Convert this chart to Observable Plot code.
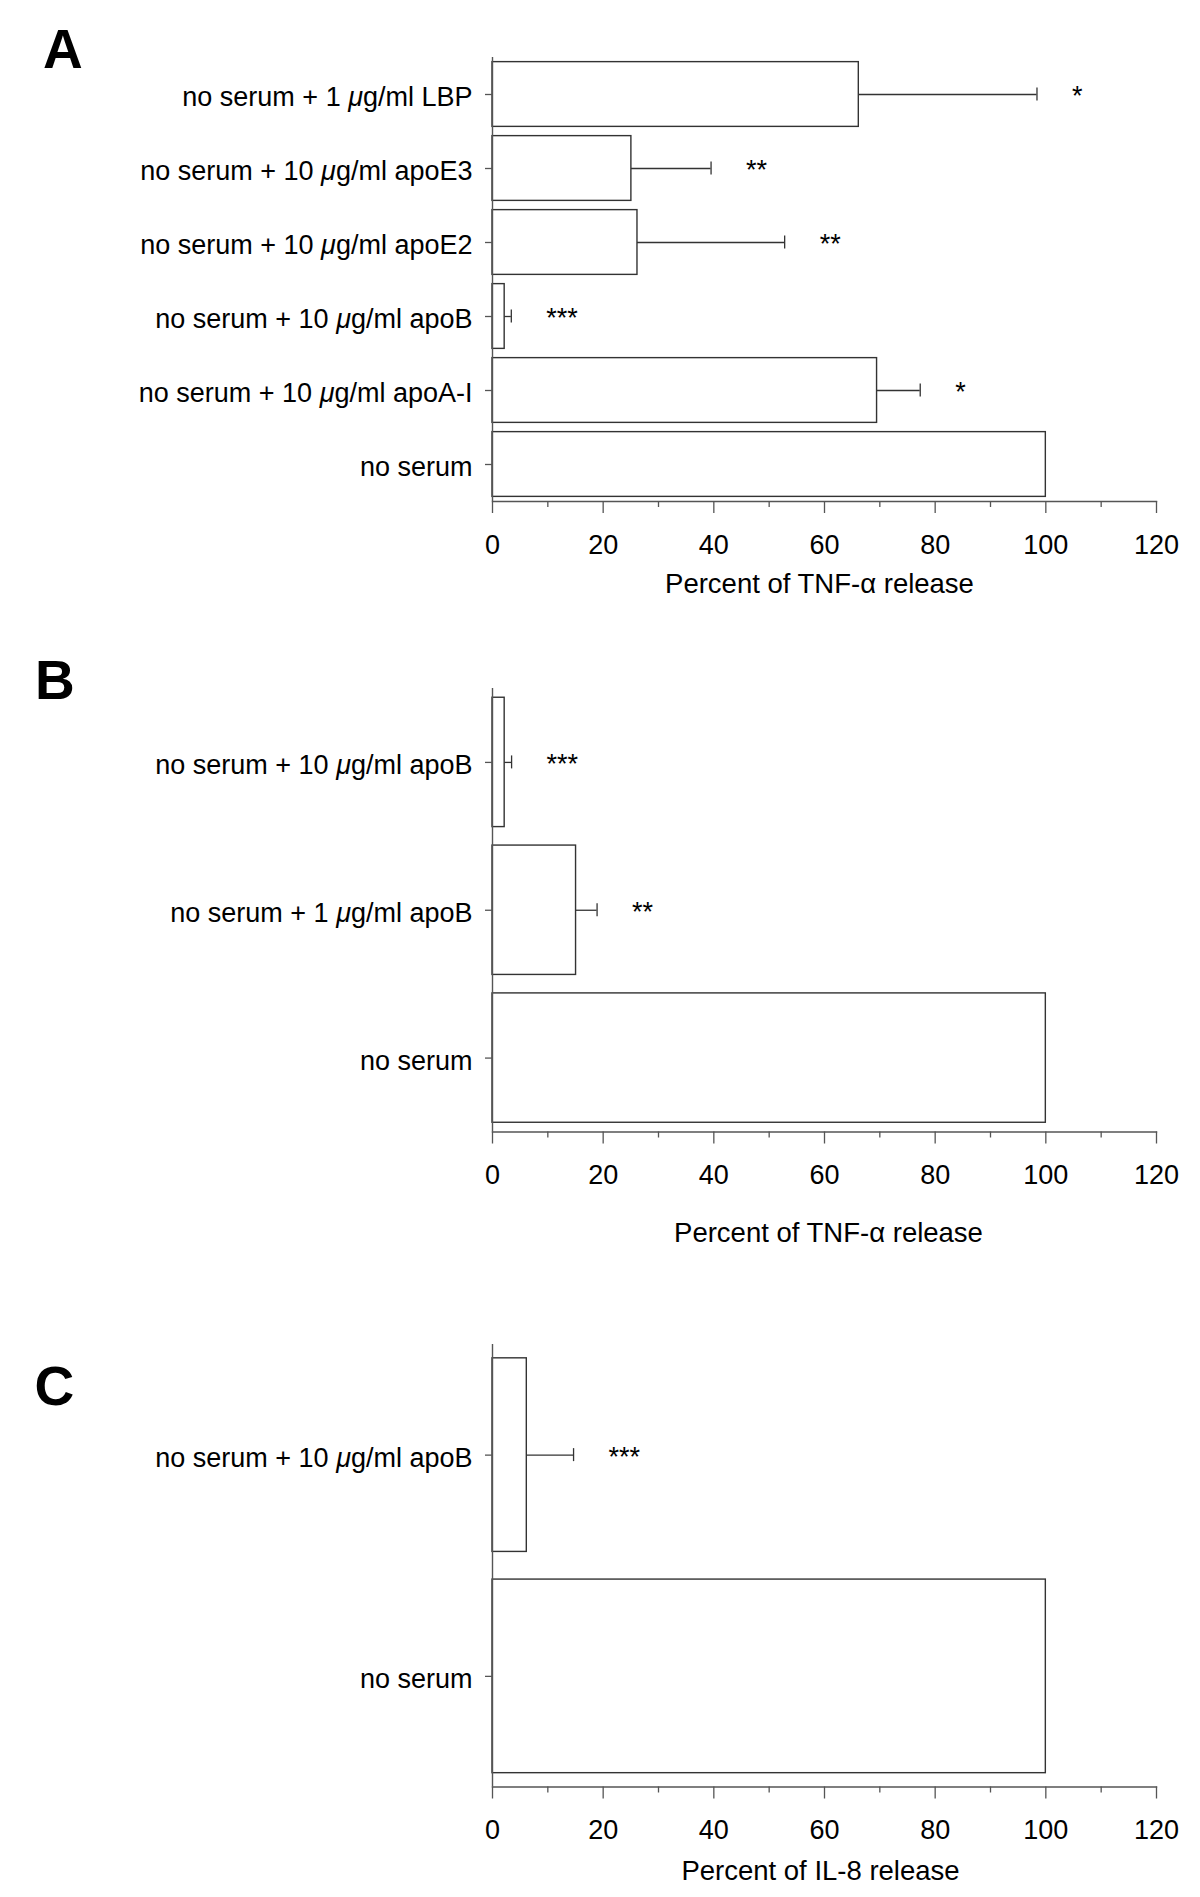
<!DOCTYPE html>
<html><head><meta charset="utf-8">
<script src="https://cdn.jsdelivr.net/npm/d3@7"></script>
<script src="https://cdn.jsdelivr.net/npm/@observablehq/plot@0.6"></script>
<style>
body{margin:0;background:#fff;}
#page{position:relative;width:1200px;height:1897px;overflow:hidden;background:#fff;font-family:"Liberation Sans",Arial,Helvetica,sans-serif;}
.panel{position:absolute;left:0;}
.letter{position:absolute;font-weight:bold;font-size:55px;line-height:1;color:#000;font-family:"Liberation Sans",Arial,Helvetica,sans-serif;}
</style></head><body><div id="page"></div>
<script>
// ---- Panel A data ----
const catsA = ["no serum + 1 μg/ml LBP","no serum + 10 μg/ml apoE3","no serum + 10 μg/ml apoE2","no serum + 10 μg/ml apoB","no serum + 10 μg/ml apoA-I","no serum"];
const valuesA = [66.2, 25.1, 26.2, 2.2, 69.5, 100];
const errorsA = [32.2, 14.4, 26.6, 1.2, 7.8, 0];
const starsA = ["*", "**", "**", "***", "*", ""];
const titleA = "Percent of TNF-α release";

// ---- Panel B data ----
const catsB = ["no serum + 10 μg/ml apoB","no serum + 1 μg/ml apoB","no serum"];
const valuesB = [2.2, 15.1, 100];
const errorsB = [1.25, 3.8, 0];
const starsB = ["***", "**", ""];
const titleB = "Percent of TNF-α release";

// ---- Panel C data ----
const catsC = ["no serum + 10 μg/ml apoB","no serum"];
const valuesC = [6.2, 100];
const errorsC = [8.45, 0];
const starsC = ["***", ""];
const titleC = "Percent of IL-8 release";

const majorTicks = [0, 20, 40, 60, 80, 100, 120];
const minorTicks = [10, 30, 50, 70, 90, 110];

const FONT = '"Liberation Sans", Arial, Helvetica, sans-serif';
const BAR = "#333";
const AXIS = "#555";
const FS = 27;

const page = document.getElementById("page");

function italicizeMu(svg) {
  svg.querySelectorAll("text").forEach(t => {
    if (t.children.length === 0 && t.textContent.includes("μ")) {
      const parts = t.textContent.split("μ");
      t.textContent = "";
      parts.forEach((p, i) => {
        if (i > 0) {
          const ts = document.createElementNS("http://www.w3.org/2000/svg", "tspan");
          ts.setAttribute("font-style", "italic");
          ts.textContent = "μ";
          t.appendChild(ts);
        }
        t.appendChild(document.createTextNode(p));
      });
    }
  });
}

function makePanel({cats, values, errors, stars, title, top, svgHeight, marginTop, plotHeight, titleDy, titleDx}) {
  const rows = cats.map((c, i) => ({cat: c, value: values[i], err: errors[i], star: stars[i]}));
  const errRows = rows.filter(d => d.err > 0);
  const pIn = 0.125, pOut = 0.0625;
  const capInset = (plotHeight / cats.length * (1 - pIn) - 13) / 2;
  const chart = Plot.plot({
    width: 1200,
    height: svgHeight,
    marginLeft: 492,
    marginRight: 44,
    marginTop,
    marginBottom: svgHeight - marginTop - plotHeight,
    style: {fontFamily: FONT, fontSize: FS + "px", color: "#000", background: "transparent"},
    x: {domain: [0, 120], axis: null},
    y: {domain: cats, paddingInner: pIn, paddingOuter: pOut, round: false, axis: null},
    marks: [
      Plot.ruleY(errRows, {y: "cat", x1: "value", x2: d => d.value + d.err, stroke: BAR, strokeWidth: 1.3}),
      Plot.tickX(errRows, {y: "cat", x: d => d.value + d.err, stroke: BAR, strokeWidth: 1.3, insetTop: capInset, insetBottom: capInset}),
      Plot.barX(rows, {y: "cat", x1: 0, x2: "value", fill: "white", stroke: BAR, strokeWidth: 1.4}),
      Plot.text(errRows, {y: "cat", x: d => d.value + d.err, text: "star", textAnchor: "start", dx: 35, dy: 2, fontSize: FS, fill: "#000"}),
      Plot.ruleX([0], {stroke: AXIS, strokeWidth: 1.4}),
      Plot.frame({anchor: "bottom", stroke: AXIS, strokeWidth: 1.4}),
      Plot.axisY({tickSize: 7, stroke: AXIS, strokeWidth: 1.3, tickFormat: () => "", label: null}),
      Plot.axisY({tickSize: 0, tickPadding: 20, dy: 3, fill: "#000", fontSize: FS, label: null}),
      Plot.axisX({ticks: majorTicks, tickSize: 12, tickPadding: 21, stroke: AXIS, strokeWidth: 1.3, fill: "#000", fontSize: FS, tickFormat: d => String(d), label: null}),
      Plot.axisX({ticks: minorTicks, tickSize: 6, stroke: AXIS, strokeWidth: 1.3, tickFormat: () => "", label: null}),
      Plot.text([title], {text: d => d, frameAnchor: "bottom", lineAnchor: "middle", dy: titleDy, dx: titleDx, fontSize: 27.5, fill: "#000"})
    ]
  });
  italicizeMu(chart);
  const wrap = document.createElement("div");
  wrap.className = "panel";
  wrap.style.top = top + "px";
  wrap.appendChild(chart);
  page.appendChild(wrap);
}

function addLetter(txt, left, top) {
  const d = document.createElement("div");
  d.className = "letter";
  d.textContent = txt;
  d.style.left = left + "px";
  d.style.top = top + "px";
  page.appendChild(d);
}

makePanel({cats: catsA, values: valuesA, errors: errorsA, stars: starsA, title: titleA,
  top: 0, svgHeight: 630, marginTop: 57, plotHeight: 444, titleDy: 83, titleDx: -5});
makePanel({cats: catsB, values: valuesB, errors: errorsB, stars: starsB, title: titleB,
  top: 640, svgHeight: 620, marginTop: 48, plotHeight: 443.5, titleDy: 101, titleDx: 4});
makePanel({cats: catsC, values: valuesC, errors: errorsC, stars: starsC, title: titleC,
  top: 1300, svgHeight: 597, marginTop: 44, plotHeight: 442.5, titleDy: 84, titleDx: -4});

addLetter("A", 43, 21.7);
addLetter("B", 35, 652.7);
addLetter("C", 34.6, 1358.7);
</script>
</body></html>
